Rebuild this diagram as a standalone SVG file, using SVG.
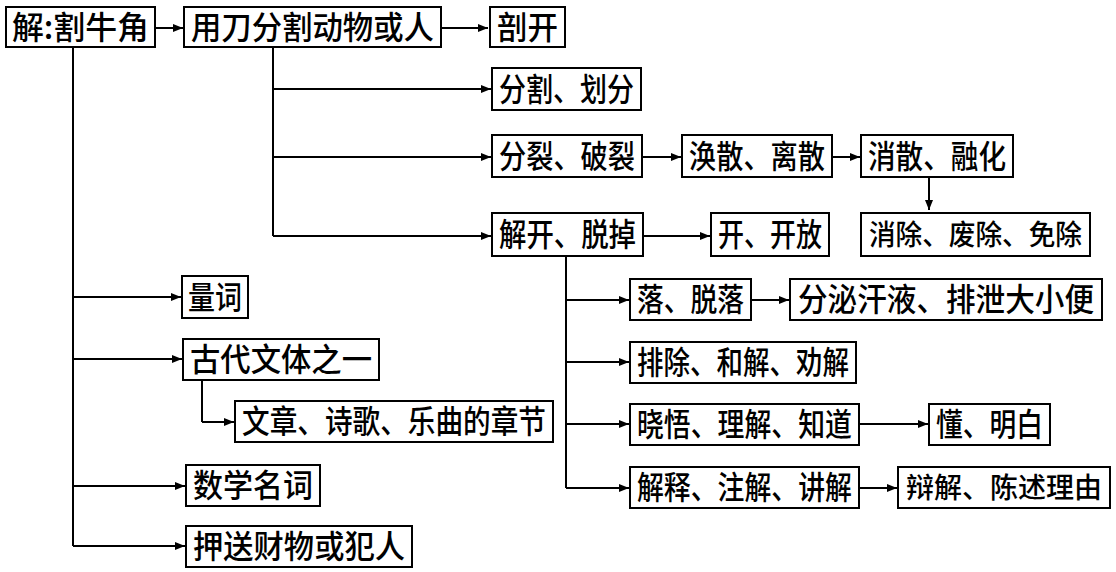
<svg xmlns="http://www.w3.org/2000/svg" width="1116" height="572" viewBox="0 0 1116 572">
<style>
rect.b{fill:#fff;stroke:#000;stroke-width:2}
text{font-family:"Noto Sans CJK SC","Noto Sans CJK JP",sans-serif;font-size:32px;font-weight:500;fill:#000;text-anchor:middle}
text.s{font-size:28px}
.c path,.c line{fill:none;stroke:#000;stroke-width:2}
</style>
<defs>
<marker id="ah" markerWidth="10" markerHeight="8" refX="10" refY="4" orient="auto" markerUnits="userSpaceOnUse">
<path d="M0,0 L10,4 L0,8 Z" fill="#000"/>
</marker>
</defs>
<rect width="1116" height="572" fill="#fff"/>
<g class="c">
<line x1="155" y1="28" x2="183" y2="28" marker-end="url(#ah)"/>
<line x1="441" y1="28" x2="488" y2="28" marker-end="url(#ah)"/>
<path d="M273,47 V236"/>
<line x1="273" y1="89" x2="491" y2="89" marker-end="url(#ah)"/>
<line x1="273" y1="157" x2="491" y2="157" marker-end="url(#ah)"/>
<line x1="273" y1="236" x2="491" y2="236" marker-end="url(#ah)"/>
<line x1="642" y1="157" x2="681" y2="157" marker-end="url(#ah)"/>
<line x1="832" y1="157" x2="860" y2="157" marker-end="url(#ah)"/>
<line x1="929" y1="176" x2="929" y2="210" marker-end="url(#ah)"/>
<line x1="643" y1="236" x2="710" y2="236" marker-end="url(#ah)"/>
<path d="M566,256 V488"/>
<line x1="566" y1="300" x2="629" y2="300" marker-end="url(#ah)"/>
<line x1="566" y1="362" x2="629" y2="362" marker-end="url(#ah)"/>
<line x1="566" y1="424" x2="629" y2="424" marker-end="url(#ah)"/>
<line x1="566" y1="488" x2="629" y2="488" marker-end="url(#ah)"/>
<line x1="751" y1="300" x2="789" y2="300" marker-end="url(#ah)"/>
<line x1="859" y1="424" x2="928" y2="424" marker-end="url(#ah)"/>
<line x1="859" y1="488" x2="897" y2="488" marker-end="url(#ah)"/>
<path d="M73,47 V546"/>
<line x1="73" y1="297" x2="181" y2="297" marker-end="url(#ah)"/>
<line x1="73" y1="359" x2="182" y2="359" marker-end="url(#ah)"/>
<line x1="73" y1="486" x2="185" y2="486" marker-end="url(#ah)"/>
<line x1="73" y1="546" x2="185" y2="546" marker-end="url(#ah)"/>
<path d="M202,380 V422"/>
<line x1="202" y1="422" x2="234" y2="422" marker-end="url(#ah)"/>
</g>
<g id="n1"><rect class="b" x="6" y="7" width="149" height="40"/><text x="80.5" y="39" textLength="137" lengthAdjust="spacingAndGlyphs">解:割牛角</text></g>
<g id="n2"><rect class="b" x="184" y="7" width="257" height="40"/><text x="312.5" y="39" textLength="243" lengthAdjust="spacingAndGlyphs">用刀分割动物或人</text></g>
<g id="n3"><rect class="b" x="490" y="7" width="75" height="40"/><text x="527.5" y="39" textLength="61" lengthAdjust="spacingAndGlyphs">剖开</text></g>
<g id="n4"><rect class="b" x="492" y="68" width="149" height="42"/><text x="566.5" y="101" textLength="135" lengthAdjust="spacingAndGlyphs">分割、划分</text></g>
<g id="n5"><rect class="b" x="492" y="135" width="150" height="42"/><text x="567" y="168" textLength="136" lengthAdjust="spacingAndGlyphs">分裂、破裂</text></g>
<g id="n6"><rect class="b" x="682" y="135" width="150" height="42"/><text x="757" y="168" textLength="136" lengthAdjust="spacingAndGlyphs">涣散、离散</text></g>
<g id="n7"><rect class="b" x="861" y="135" width="152" height="42"/><text x="937" y="168" textLength="138" lengthAdjust="spacingAndGlyphs">消散、融化</text></g>
<g id="n8"><rect class="b" x="861" y="213" width="229" height="43"/><text class="s" x="975.5" y="245" textLength="213" lengthAdjust="spacingAndGlyphs">消除、废除、免除</text></g>
<g id="n9"><rect class="b" x="492" y="213" width="151" height="43"/><text x="567.5" y="246" textLength="137" lengthAdjust="spacingAndGlyphs">解开、脱掉</text></g>
<g id="n10"><rect class="b" x="711" y="213" width="118" height="43"/><text x="770" y="246" textLength="104" lengthAdjust="spacingAndGlyphs">开、开放</text></g>
<g id="n11"><rect class="b" x="630" y="279" width="121" height="41"/><text x="690.5" y="311" textLength="107" lengthAdjust="spacingAndGlyphs">落、脱落</text></g>
<g id="n12"><rect class="b" x="790" y="279" width="312" height="41"/><text x="946" y="311" textLength="296" lengthAdjust="spacingAndGlyphs">分泌汗液、排泄大小便</text></g>
<g id="n13"><rect class="b" x="630" y="342" width="226" height="41"/><text x="743" y="374" textLength="212" lengthAdjust="spacingAndGlyphs">排除、和解、劝解</text></g>
<g id="n14"><rect class="b" x="630" y="404" width="229" height="41"/><text x="744.5" y="436" textLength="215" lengthAdjust="spacingAndGlyphs">晓悟、理解、知道</text></g>
<g id="n15"><rect class="b" x="929" y="404" width="121" height="41"/><text x="989.5" y="436" textLength="107" lengthAdjust="spacingAndGlyphs">懂、明白</text></g>
<g id="n16"><rect class="b" x="630" y="467" width="229" height="41"/><text x="744.5" y="499" textLength="215" lengthAdjust="spacingAndGlyphs">解释、注解、讲解</text></g>
<g id="n17"><rect class="b" x="898" y="467" width="212" height="41"/><text class="s" x="1004" y="498" textLength="196" lengthAdjust="spacingAndGlyphs">辩解、陈述理由</text></g>
<g id="n18"><rect class="b" x="182" y="276" width="66" height="42"/><text x="215" y="309" textLength="54" lengthAdjust="spacingAndGlyphs">量词</text></g>
<g id="n19"><rect class="b" x="183" y="339" width="196" height="41"/><text x="281" y="371" textLength="182" lengthAdjust="spacingAndGlyphs">古代文体之一</text></g>
<g id="n20"><rect class="b" x="235" y="401" width="318" height="41"/><text x="394" y="433" textLength="304" lengthAdjust="spacingAndGlyphs">文章、诗歌、乐曲的章节</text></g>
<g id="n21"><rect class="b" x="186" y="465" width="134" height="41"/><text x="253" y="497" textLength="120" lengthAdjust="spacingAndGlyphs">数学名词</text></g>
<g id="n22"><rect class="b" x="186" y="526" width="226" height="41"/><text x="299" y="558" textLength="212" lengthAdjust="spacingAndGlyphs">押送财物或犯人</text></g>
</svg>
